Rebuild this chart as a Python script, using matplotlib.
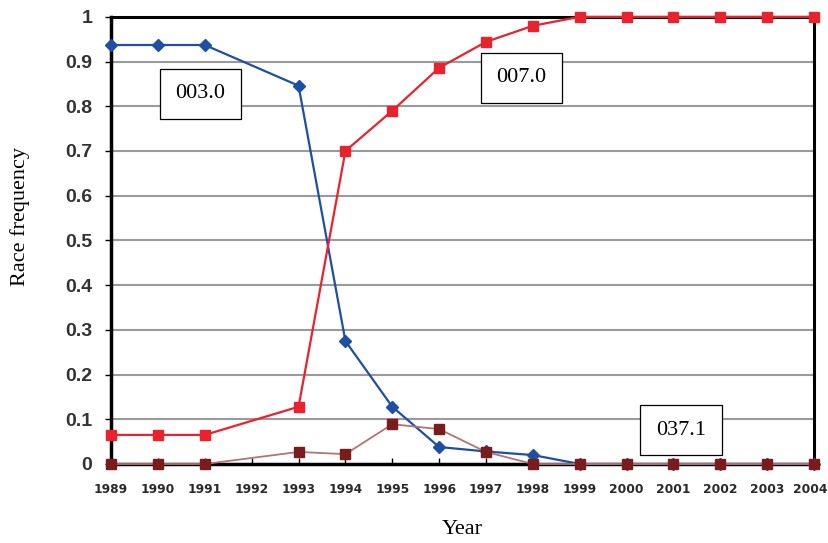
import matplotlib
matplotlib.use("Agg")
import matplotlib.pyplot as plt
import matplotlib.transforms as mtransforms
import numpy as np

years = ["1989", "1990", "1991", "1992", "1993", "1994", "1995", "1996",
         "1997", "1998", "1999", "2000", "2001", "2002", "2003", "2004"]
data_years = ["1989", "1990", "1991", "1993", "1994", "1995", "1996",
              "1997", "1998", "1999", "2000", "2001", "2002", "2003", "2004"]
race_003 = [0.937, 0.937, 0.937, 0.846, 0.275, 0.128, 0.038, 0.028, 0.020,
            0, 0, 0, 0, 0, 0]
race_007 = [0.065, 0.065, 0.065, 0.128, 0.700, 0.790, 0.886, 0.944, 0.980,
            1.0, 1.0, 1.0, 1.0, 1.0, 1.0]
race_037 = [0, 0, 0, 0.027, 0.022, 0.089, 0.078, 0.027, 0,
            0, 0, 0, 0, 0, 0]
yticks = [0, 0.1, 0.2, 0.3, 0.4, 0.5, 0.6, 0.7, 0.8, 0.9, 1]
ytick_labels = ["0", "0.1", "0.2", "0.3", "0.4", "0.5", "0.6", "0.7", "0.8", "0.9", "1"]

xpos = [years.index(y) for y in data_years]

fig = plt.figure(figsize=(8.29, 5.43), dpi=100)
ax = fig.add_axes([0.134, 0.1455, 0.848, 0.8235])

for yv in yticks[1:-1]:
    ax.axhline(yv, color="#9a9a9a", lw=1.5, zorder=1)

ax.plot(xpos, race_003, color="#1f4fa3", lw=1.6, marker="D", ms=6,
        mfc="#1f4fa3", mec="#1f4fa3", zorder=3, clip_on=False)
ax.plot(xpos, race_037, color="#b07575", lw=1.3, marker="s", ms=6.5,
        mfc="#7a1c1c", mec="#7a1c1c", zorder=4, clip_on=False)
ax.plot(xpos, race_007, color="#e8232e", lw=1.6, marker="s", ms=6.5,
        mfc="#e8232e", mec="#e8232e", zorder=5, clip_on=False)

ax.set_xlim(0, len(years) - 1)
ax.set_ylim(0, 1)
ax.set_xticks(range(len(years)))
ax.set_xticklabels(years, fontsize=8.8, fontweight="bold",
                   family=["DejaVu Sans"], color="#2a2a2a")
ax.set_yticks(yticks)
ax.set_yticklabels(ytick_labels, fontsize=14, fontweight="bold",
                   family=["Liberation Sans", "DejaVu Sans"], color="#333333")
ax.tick_params(axis="x", direction="in", length=4, width=1, pad=14)
ax.tick_params(axis="y", direction="out", length=4, width=1, pad=9.5)

# nudge the last x label so it stays inside the figure
last = ax.get_xticklabels()[-1]
last.set_transform(last.get_transform() +
                   mtransforms.ScaledTranslation(-4 / 100, 0, fig.dpi_scale_trans))

for side in ["left", "bottom"]:
    ax.spines[side].set_linewidth(2.5)
for side in ["top", "right"]:
    ax.spines[side].set_linewidth(2.2)
for s in ax.spines.values():
    s.set_color("black")
    s.set_zorder(2)

ax.set_xlabel("Year", fontsize=16, family=["Liberation Serif", "DejaVu Serif"],
              labelpad=17)
fig.text(20 / 829, 1 - 216 / 543, "Race frequency", fontsize=16, rotation=90,
         ha="center", va="center", family=["Liberation Serif", "DejaVu Serif"])

box = dict(boxstyle="square,pad=0.7", fc="white", ec="black", lw=0.9)
for txt, x, y in [("003.0", 1.9, 0.828), ("007.0", 8.75, 0.864), ("037.1", 12.16, 0.076)]:
    ax.text(x, y, txt, ha="center", va="center", fontsize=16,
            family=["Liberation Serif", "DejaVu Serif"], bbox=box, zorder=6)

fig.savefig("out.png", dpi=100)
